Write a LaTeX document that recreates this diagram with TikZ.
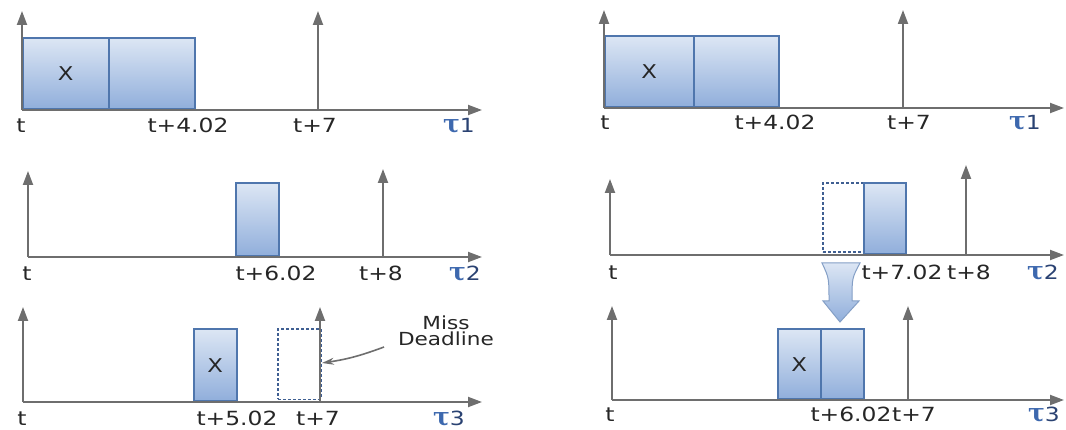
\documentclass[tikz,border=0pt]{standalone}
\usepackage{fontspec}
\usepackage{graphicx}
\setmainfont{DejaVu Sans}
\newfontfamily\lblfont[FakeStretch=1.2]{DejaVu Sans}
\newfontfamily\taufont{DejaVu Serif}
\usetikzlibrary{arrows.meta}
\definecolor{axisgray}{HTML}{6E6E6E}
\definecolor{boxblue}{HTML}{4F76AD}
\definecolor{boxtop}{HTML}{DCE6F4}
\definecolor{boxbot}{HTML}{90AEDB}
\definecolor{dashblue}{HTML}{3F5F92}
\definecolor{textgray}{HTML}{262626}
\definecolor{taublue}{HTML}{3D68AE}
\definecolor{taunum}{HTML}{2A4272}
\tikzset{
  axis/.style={draw=axisgray, line width=2pt, -{Triangle[length=14pt,width=10pt]}},
  task/.style={draw=boxblue, line width=1.6pt, top color=boxtop, bottom color=boxbot,
    anchor=south west, inner sep=0pt, text=textgray, font=\lblfont\fontsize{19}{19}\selectfont},
  ghost/.style={draw=dashblue, dash pattern=on 3pt off 2pt, line width=1.5pt,
    anchor=south west, inner sep=0pt},
  lbl/.style={anchor=base, inner sep=0pt, text=textgray, font=\lblfont\fontsize{19.5}{19.5}\selectfont},
  taulbl/.style={anchor=base, inner sep=0pt},
  note/.style={anchor=base, inner sep=0pt, text=textgray, font=\lblfont\fontsize{18}{18}\selectfont},
  missarrow/.style={draw=axisgray, line width=1.6pt, -{Stealth[length=12pt,width=7pt]}},
  bigarrow/.style={draw=boxblue!70, line width=1pt, top color=boxtop, bottom color=boxbot},
}
\newcommand{\tauname}[1]{{\taufont\bfseries\fontsize{25}{25}\selectfont\color{taublue}τ}{\lblfont\fontsize{19.5}{19.5}\selectfont\color{taunum}#1}}
\begin{document}
\begin{tikzpicture}[x=1pt,y=-1pt]
\useasboundingbox (0,0) rectangle (1066,430);

% ================= LEFT PANEL =================
% Row 1
\coordinate (L1o) at (22,110); \coordinate (L1e) at (482,110); \coordinate (L1u) at (22,11);
\coordinate (L1d) at (318,110); \coordinate (L1dt) at (318,11);
\node[task, minimum width=86pt, minimum height=71pt] (L1a) at (22,110) {X};
\node[task, minimum width=86pt, minimum height=71pt] (L1b) at (108,110) {};
\draw[axis] (L1o) -- (L1e);
\draw[axis] (L1o) -- (L1u);
\draw[axis] (L1d) -- (L1dt);
\node[lbl] (L1t) at (21,133) {t};
\node[lbl] (L1l1) at (188,133) {t+4.02};
\node[lbl] (L1l2) at (315,133) {t+7};
\node[taulbl] (L1tau) at (459,133) {\tauname{1}};

% Row 2
\coordinate (L2o) at (28,257); \coordinate (L2e) at (482,257); \coordinate (L2u) at (28,171);
\coordinate (L2d) at (383,257); \coordinate (L2dt) at (383,169);
\node[task, minimum width=43pt, minimum height=73pt] (L2a) at (235,257) {};
\draw[axis] (L2o) -- (L2e);
\draw[axis] (L2o) -- (L2u);
\draw[axis] (L2d) -- (L2dt);
\node[lbl] (L2t) at (27,281) {t};
\node[lbl] (L2l1) at (276,281) {t+6.02};
\node[lbl] (L2l2) at (381,281) {t+8};
\node[taulbl] (L2tau) at (465,281) {\tauname{2}};

% Row 3
\coordinate (L3o) at (23,402); \coordinate (L3e) at (482,402); \coordinate (L3u) at (23,307);
\coordinate (L3d) at (320,402); \coordinate (L3dt) at (320,307);
\node[task, minimum width=43pt, minimum height=72pt] (L3a) at (193,402) {X};
\node[ghost, minimum width=43pt, minimum height=70pt] (L3g) at (277,400) {};
\draw[axis] (L3o) -- (L3e);
\draw[axis] (L3o) -- (L3u);
\draw[axis] (L3d) -- (L3dt);
\node[lbl] (L3t) at (22,425) {t};
\node[lbl] (L3l1) at (237,425) {t+5.02};
\node[lbl] (L3l2) at (318,425) {t+7};
\node[taulbl] (L3tau) at (449,425) {\tauname{3}};
\node[note] (miss1) at (446,330) {Miss};
\node[note] (miss2) at (446,346) {Deadline};
\coordinate (mstart) at (384,347);
\coordinate (mend) at (322,363);
\draw[missarrow] (mstart) to[bend left=6] (mend);

% ================= RIGHT PANEL =================
% Row 1
\coordinate (R1o) at (604,108); \coordinate (R1e) at (1064,108); \coordinate (R1u) at (604,10);
\coordinate (R1d) at (903,108); \coordinate (R1dt) at (903,10);
\node[task, minimum width=89pt, minimum height=71pt] (R1a) at (604,108) {X};
\node[task, minimum width=85pt, minimum height=71pt] (R1b) at (693,108) {};
\draw[axis] (R1o) -- (R1e);
\draw[axis] (R1o) -- (R1u);
\draw[axis] (R1d) -- (R1dt);
\node[lbl] (R1t) at (605,130) {t};
\node[lbl] (R1l1) at (775,130) {t+4.02};
\node[lbl] (R1l2) at (909,130) {t+7};
\node[taulbl] (R1tau) at (1025,130) {\tauname{1}};

% Row 2
\coordinate (R2o) at (610,255); \coordinate (R2e) at (1064,255); \coordinate (R2u) at (610,179);
\coordinate (R2d) at (966,255); \coordinate (R2dt) at (966,165);
\node[ghost, minimum width=41pt, minimum height=69pt] (R2g) at (822,253) {};
\node[task, minimum width=42pt, minimum height=71pt] (R2a) at (863,255) {};
\draw[axis] (R2o) -- (R2e);
\draw[axis] (R2o) -- (R2u);
\draw[axis] (R2d) -- (R2dt);
\node[lbl] (R2t) at (613,280) {t};
\node[lbl] (R2l1) at (902,280) {t+7.02};
\node[lbl] (R2l2) at (969,280) {t+8};
\node[taulbl] (R2tau) at (1043,280) {\tauname{2}};

% move arrow
\shade[bigarrow] (822,263) .. controls (829,278) .. (829,301) -- (823,301) -- (840,322)
  -- (859,301) -- (852,301) .. controls (852,278) .. (860,263) -- cycle;

% Row 3
\coordinate (R3o) at (612,400); \coordinate (R3e) at (1064,400); \coordinate (R3u) at (612,306);
\coordinate (R3d) at (908,400); \coordinate (R3dt) at (908,306);
\node[task, minimum width=43pt, minimum height=70pt] (R3a) at (777,400) {X};
\node[task, minimum width=43pt, minimum height=70pt] (R3b) at (820,400) {};
\draw[axis] (R3o) -- (R3e);
\draw[axis] (R3o) -- (R3u);
\draw[axis] (R3d) -- (R3dt);
\node[lbl] (R3t) at (610,421) {t};
\node[lbl] (R3l1) at (851,421) {t+6.02};
\node[lbl] (R3l2) at (914,421) {t+7};
\node[taulbl] (R3tau) at (1044,421) {\tauname{3}};
\end{tikzpicture}
\end{document}
